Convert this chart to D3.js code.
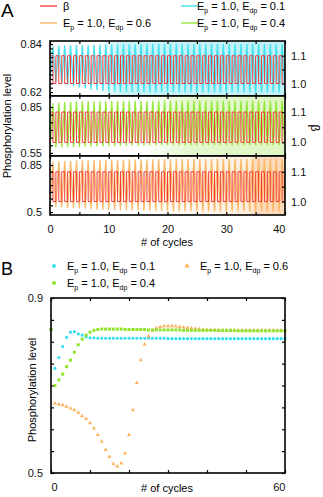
<!DOCTYPE html>
<html>
<head>
<meta charset="utf-8">
<script src="https://cdn.jsdelivr.net/npm/d3@7"></script>
<style>
  body { margin: 0; background: #fff; }
  svg { display: block; font-family: "Liberation Sans", Arial, sans-serif; }
</style>
</head>
<body>
<svg id="chart" width="323" height="497"></svg>
<script>
// ---- panel A data (value per cycle, index = cycle number) ----
const cycleTicksA = [0, 5, 10, 15, 20, 25, 30, 35, 40];
const cycleLabelsA = [0, 10, 20, 30, 40];
const betaPattern = [1.1, 1.0]; // first half of each cycle high, second half low

const cyanPeak = [0.828, 0.832, 0.834, 0.835, 0.835, 0.836, 0.836, 0.837, 0.837, 0.838,
  0.838, 0.838, 0.839, 0.839, 0.839, 0.84, 0.84, 0.84, 0.84, 0.84,
  0.84, 0.84, 0.84, 0.84, 0.84, 0.84, 0.84, 0.84, 0.84, 0.84,
  0.84, 0.84, 0.84, 0.84, 0.84, 0.84, 0.84, 0.84, 0.84, 0.84, 0.84];
const cyanTrough = [0.675, 0.668, 0.661, 0.654, 0.647, 0.641, 0.636, 0.631, 0.628, 0.625,
  0.623, 0.622, 0.621, 0.62, 0.62, 0.619, 0.619, 0.619, 0.618, 0.618,
  0.618, 0.618, 0.618, 0.618, 0.618, 0.618, 0.618, 0.618, 0.618, 0.618,
  0.618, 0.618, 0.618, 0.618, 0.618, 0.618, 0.618, 0.618, 0.618, 0.618, 0.618];

const greenPeak = [0.875, 0.88, 0.883, 0.885, 0.886, 0.887, 0.887, 0.888, 0.888, 0.888,
  0.889, 0.889, 0.889, 0.889, 0.89, 0.89, 0.89, 0.89, 0.89, 0.89,
  0.89, 0.89, 0.89, 0.89, 0.89, 0.89, 0.89, 0.89, 0.89, 0.89,
  0.89, 0.89, 0.89, 0.89, 0.89, 0.89, 0.89, 0.89, 0.89, 0.89, 0.89];
const greenTrough = [0.584, 0.585, 0.586, 0.587, 0.588, 0.589, 0.59, 0.591, 0.592, 0.593,
  0.594, 0.595, 0.596, 0.597, 0.598, 0.598, 0.599, 0.599, 0.6, 0.6,
  0.6, 0.6, 0.6, 0.6, 0.6, 0.6, 0.6, 0.6, 0.6, 0.6,
  0.6, 0.6, 0.6, 0.6, 0.6, 0.6, 0.6, 0.6, 0.6, 0.6, 0.6];

const orangePeak = [0.875, 0.878, 0.88, 0.882, 0.884, 0.885, 0.886, 0.887, 0.888, 0.889,
  0.89, 0.89, 0.891, 0.891, 0.892, 0.892, 0.893, 0.893, 0.893, 0.894,
  0.894, 0.894, 0.894, 0.895, 0.895, 0.895, 0.895, 0.895, 0.895, 0.895,
  0.895, 0.895, 0.895, 0.895, 0.895, 0.895, 0.895, 0.895, 0.895, 0.895, 0.895];
const orangeTrough = [0.54, 0.537, 0.534, 0.531, 0.528, 0.526, 0.524, 0.522, 0.52, 0.518,
  0.517, 0.515, 0.514, 0.513, 0.512, 0.511, 0.51, 0.509, 0.508, 0.508,
  0.507, 0.507, 0.506, 0.506, 0.506, 0.505, 0.505, 0.505, 0.505, 0.505,
  0.505, 0.505, 0.505, 0.505, 0.505, 0.505, 0.505, 0.505, 0.505, 0.505, 0.505];

// ---- panel B data (value per cycle, index = cycle number) ----
const cycleTicksB = [0, 10, 20, 30, 40, 50, 60];
const levelTicksB = [0.5, 0.55, 0.6, 0.65, 0.7, 0.75, 0.8, 0.85, 0.9];

const cyanB = [0.828, 0.739, 0.764, 0.789, 0.81, 0.822, 0.823, 0.818, 0.815, 0.811,
  0.809, 0.809, 0.808, 0.808, 0.808, 0.808, 0.808, 0.808, 0.808, 0.808,
  0.808, 0.808, 0.808, 0.808, 0.808, 0.808, 0.808, 0.808, 0.808, 0.808,
  0.807, 0.807, 0.807, 0.807, 0.807, 0.807, 0.807, 0.807, 0.807, 0.807,
  0.807, 0.807, 0.807, 0.807, 0.807, 0.807, 0.807, 0.807, 0.807, 0.807,
  0.807, 0.807, 0.807, 0.807, 0.807, 0.807, 0.807, 0.807, 0.807, 0.807, 0.807];
const greenB = [0.828, 0.7, 0.713, 0.726, 0.743, 0.758, 0.776, 0.793, 0.806, 0.815,
  0.822, 0.826, 0.828, 0.829, 0.829, 0.829, 0.829, 0.829, 0.829, 0.828,
  0.828, 0.828, 0.828, 0.828, 0.828, 0.827, 0.827, 0.827, 0.827, 0.827,
  0.827, 0.827, 0.827, 0.827, 0.826, 0.826, 0.826, 0.826, 0.826, 0.826,
  0.826, 0.826, 0.826, 0.826, 0.826, 0.826, 0.826, 0.826, 0.825, 0.825,
  0.825, 0.825, 0.825, 0.825, 0.825, 0.825, 0.825, 0.825, 0.825, 0.825, 0.825];
const orangeB = [0.828, 0.659, 0.657, 0.655, 0.652, 0.648, 0.644, 0.638, 0.63, 0.624,
  0.614, 0.602, 0.587, 0.572, 0.553, 0.537, 0.521, 0.515, 0.522, 0.545,
  0.587, 0.644, 0.706, 0.758, 0.794, 0.813, 0.825, 0.831, 0.834, 0.836,
  0.836, 0.836, 0.835, 0.834, 0.833, 0.832, 0.831, 0.83, 0.829, 0.828,
  0.828, 0.827, 0.827, 0.826, 0.826, 0.826, 0.826, 0.826, 0.826, 0.826,
  0.826, 0.826, 0.826, 0.826, 0.826, 0.826, 0.826, 0.826, 0.826, 0.826, 0.826];

const RED = "#f03a3a", CYAN = "#35dff0", GREEN = "#8ee52c", ORANGE = "#fbb25a";

const svg = d3.select("#chart");
const defs = svg.append("defs");

// ---------------- Panel A ----------------
const xA = d3.scaleLinear().domain([0, 40]).range([50, 285]);

const panels = [
  { top: 41, bottom: 96, yDomain: [0.602, 0.854], ticks: d3.range(0.62, 0.8401, 0.02), labels: [0.62, 0.84],
    color: CYAN, peak: cyanPeak, trough: cyanTrough, id: "gc",
    stops: [[0, "#ffffff"], [0.2, "#ffffff"], [0.3, "#c6f3f7"], [1, "#c0f1f6"]] },
  { top: 96, bottom: 156, yDomain: [0.53, 0.922], ticks: d3.range(0.55, 0.8501, 0.05), labels: [0.55, 0.85],
    color: GREEN, peak: greenPeak, trough: greenTrough, id: "gg",
    stops: [[0, "#ffffff"], [0.4, "#ffffff"], [0.6, "#e4f8cc"], [1, "#dff6c4"]] },
  { top: 156, bottom: 215, yDomain: [0.478, 0.917], ticks: d3.range(0.5, 0.8501, 0.05), labels: [0.5, 0.85],
    color: ORANGE, peak: orangePeak, trough: orangeTrough, id: "go",
    stops: [[0, "#ffffff"], [0.4, "#ffffff"], [0.85, "#fdeedd"], [0.87, "#fcdcbf"], [1, "#fcd8b8"]] }
];

panels.forEach((p, i) => {
  const y = d3.scaleLinear().domain(p.yDomain).range([p.bottom, p.top]);
  const yB = d3.scaleLinear().domain([0.955, 1.153]).range([p.bottom, p.top]);

  const grad = defs.append("linearGradient").attr("id", p.id)
    .attr("gradientUnits", "userSpaceOnUse")
    .attr("x1", xA(0)).attr("x2", xA(40)).attr("y1", 0).attr("y2", 0);
  p.stops.forEach(s => grad.append("stop").attr("offset", s[0]).attr("stop-color", s[1]));

  defs.append("clipPath").attr("id", "clip" + i)
    .append("rect").attr("x", xA(0)).attr("y", p.top)
    .attr("width", xA(40) - xA(0)).attr("height", p.bottom - p.top);

  svg.append("rect").attr("x", xA(0)).attr("y", p.top)
    .attr("width", xA(40) - xA(0)).attr("height", p.bottom - p.top)
    .attr("fill", `url(#${p.id})`);

  const g = svg.append("g").attr("clip-path", `url(#clip${i})`);

  // phosphorylation oscillation: trough at start of cycle, peak half way
  const pts = [];
  p.trough.forEach((t, k) => {
    pts.push([k, t]);
    pts.push([k + 0.5, p.peak[k]]);
  });
  g.append("path").datum(pts)
    .attr("d", d3.line().x(d => xA(d[0])).y(d => y(d[1])))
    .attr("fill", "none").attr("stroke", p.color).attr("stroke-width", 1.3)
    .attr("stroke-opacity", 0.9);

  // beta square wave
  const bpts = [];
  p.peak.forEach((_, k) => {
    bpts.push([k, betaPattern[0]]);
    bpts.push([k + 0.5, betaPattern[1]]);
  });
  g.append("path").datum(bpts)
    .attr("d", d3.line().curve(d3.curveStepAfter).x(d => xA(d[0])).y(d => yB(d[1])))
    .attr("fill", "none").attr("stroke", RED).attr("stroke-width", 1);

  // axes
  const fmtY = d => p.labels.some(l => Math.abs(l - d) < 1e-6) ? String(+d.toFixed(2)) : "";
  svg.append("g").attr("transform", `translate(${xA(0)},0)`)
    .call(d3.axisLeft(y).tickValues(p.ticks).tickSize(-3).tickSizeOuter(0).tickPadding(8).tickFormat(fmtY))
    .call(a => a.select(".domain").remove());

  svg.append("g").attr("transform", `translate(${xA(40)},0)`)
    .call(d3.axisRight(yB).tickValues([1.0, 1.05, 1.1]).tickSize(-3).tickSizeOuter(0).tickPadding(6)
      .tickFormat(d => Math.abs(d - 1.05) < 1e-6 ? "" : d.toFixed(1)))
    .call(a => a.select(".domain").remove());

  svg.append("g").attr("transform", `translate(0,${p.top})`)
    .call(d3.axisTop(xA).tickValues(cycleTicksA).tickSize(-3).tickSizeOuter(0).tickFormat(""))
    .call(a => a.select(".domain").remove());

  const bx = svg.append("g").attr("transform", `translate(0,${p.bottom})`)
    .call(d3.axisBottom(xA).tickValues(cycleTicksA).tickSize(-3).tickSizeOuter(0).tickPadding(10)
      .tickFormat(d => (i === 2 && cycleLabelsA.includes(d)) ? d : ""))
    .call(a => a.select(".domain").remove());
  bx.selectAll(".tick text").filter(d => d === 40).attr("text-anchor", "end");

  svg.append("rect").attr("x", xA(0)).attr("y", p.top)
    .attr("width", xA(40) - xA(0)).attr("height", p.bottom - p.top)
    .attr("fill", "none").attr("stroke", "#000").attr("stroke-width", 1.6);
});

svg.append("text").attr("transform", "translate(11,126) rotate(-90)")
  .attr("text-anchor", "middle").attr("font-size", 11).text("Phosphorylation level");
svg.append("text").attr("transform", "translate(311,128) rotate(90)")
  .attr("text-anchor", "middle").attr("font-size", 12).text("β");
svg.append("text").attr("x", 167).attr("y", 246)
  .attr("text-anchor", "middle").attr("font-size", 11).text("# of cycles");

svg.append("text").attr("x", 1).attr("y", 17).attr("font-size", 19).text("A");

// legend A
function eLabel(sel, x, y, edp) {
  const t = sel.append("text").attr("x", x).attr("y", y).attr("font-size", 11);
  t.append("tspan").text("E");
  t.append("tspan").attr("font-size", 7).attr("dy", 2.5).text("p");
  t.append("tspan").attr("dy", -2.5).text(" = 1.0, E");
  t.append("tspan").attr("font-size", 7).attr("dy", 2.5).text("dp");
  t.append("tspan").attr("dy", -2.5).text(" = " + edp);
}
const legA = [
  { x: 40, y: 6, color: RED, label: "β", tx: 63 },
  { x: 181, y: 6, color: CYAN, edp: "0.1", tx: 197 },
  { x: 40, y: 23, color: ORANGE, edp: "0.6", tx: 63 },
  { x: 181, y: 23, color: GREEN, edp: "0.4", tx: 197 }
];
legA.forEach(l => {
  svg.append("line").attr("x1", l.x).attr("x2", l.x + 17).attr("y1", l.y).attr("y2", l.y)
    .attr("stroke", l.color).attr("stroke-width", 1.3);
  if (l.label) {
    svg.append("text").attr("x", l.tx).attr("y", l.y + 4).attr("font-size", 11).text(l.label);
  } else {
    eLabel(svg, l.tx, l.y + 4, l.edp);
  }
});

// ---------------- Panel B ----------------
const xB = d3.scaleLinear().domain([0, 60]).range([51, 285]);
const yBL = d3.scaleLinear().domain([0.5, 0.9]).range([473, 298]);

svg.append("g").attr("transform", `translate(${xB(0)},0)`)
  .call(d3.axisLeft(yBL).tickValues(levelTicksB).tickSize(-3).tickSizeOuter(0).tickPadding(8)
    .tickFormat(d => (d === 0.5 || d === 0.9) ? d : ""))
  .call(a => a.select(".domain").remove());
svg.append("g").attr("transform", `translate(${xB(60)},0)`)
  .call(d3.axisRight(yBL).tickValues(levelTicksB).tickSize(-3).tickSizeOuter(0).tickFormat(""))
  .call(a => a.select(".domain").remove());
svg.append("g").attr("transform", `translate(0,${yBL(0.9)})`)
  .call(d3.axisTop(xB).tickValues(cycleTicksB).tickSize(-3).tickSizeOuter(0).tickFormat(""))
  .call(a => a.select(".domain").remove());
const bxB = svg.append("g").attr("transform", `translate(0,${yBL(0.5)})`)
  .call(d3.axisBottom(xB).tickValues(cycleTicksB).tickSize(-3).tickSizeOuter(0).tickPadding(10)
    .tickFormat(d => (d === 0 || d === 60) ? d : ""))
  .call(a => a.select(".domain").remove());
bxB.selectAll(".tick text").filter(d => d === 0).attr("text-anchor", "start");
bxB.selectAll(".tick text").filter(d => d === 60).attr("text-anchor", "end");

svg.selectAll(".tick text").attr("font-size", 11).attr("fill", "#111")
  .attr("font-family", '"Liberation Sans", Arial, sans-serif');
svg.selectAll(".tick line").attr("stroke", "#000").attr("stroke-width", 1.2);

const sym = (type, size) => d3.symbol().type(type).size(size)();
const seriesB = [
  { data: cyanB, color: CYAN, shape: sym(d3.symbolCircle, 8) },
  { data: orangeB, color: ORANGE, shape: sym(d3.symbolTriangle, 7) },
  { data: greenB, color: GREEN, shape: sym(d3.symbolSquare, 9) }
];
seriesB.forEach(s => {
  svg.append("g").selectAll("path").data(s.data).join("path")
    .attr("transform", (d, k) => `translate(${xB(k)},${yBL(d)})`)
    .attr("d", s.shape).attr("fill", s.color);
});

svg.append("rect").attr("x", xB(0)).attr("y", yBL(0.9))
  .attr("width", xB(60) - xB(0)).attr("height", yBL(0.5) - yBL(0.9))
  .attr("fill", "none").attr("stroke", "#000").attr("stroke-width", 1.6);

svg.append("text").attr("transform", "translate(36,390) rotate(-90)")
  .attr("text-anchor", "middle").attr("font-size", 11).text("Phosphorylation level");
svg.append("text").attr("x", 167).attr("y", 492)
  .attr("text-anchor", "middle").attr("font-size", 11).text("# of cycles");

svg.append("text").attr("x", 1).attr("y", 275).attr("font-size", 18).text("B");

// legend B
const legB = [
  { x: 54, y: 266, color: CYAN, shape: sym(d3.symbolCircle, 12), edp: "0.1" },
  { x: 187, y: 266, color: ORANGE, shape: sym(d3.symbolTriangle, 12), edp: "0.6" },
  { x: 54, y: 283, color: GREEN, shape: sym(d3.symbolSquare, 12), edp: "0.4" }
];
legB.forEach(l => {
  svg.append("path").attr("transform", `translate(${l.x},${l.y})`).attr("d", l.shape).attr("fill", l.color);
  eLabel(svg, l.x + 13, l.y + 4, l.edp);
});
</script>
</body>
</html>
